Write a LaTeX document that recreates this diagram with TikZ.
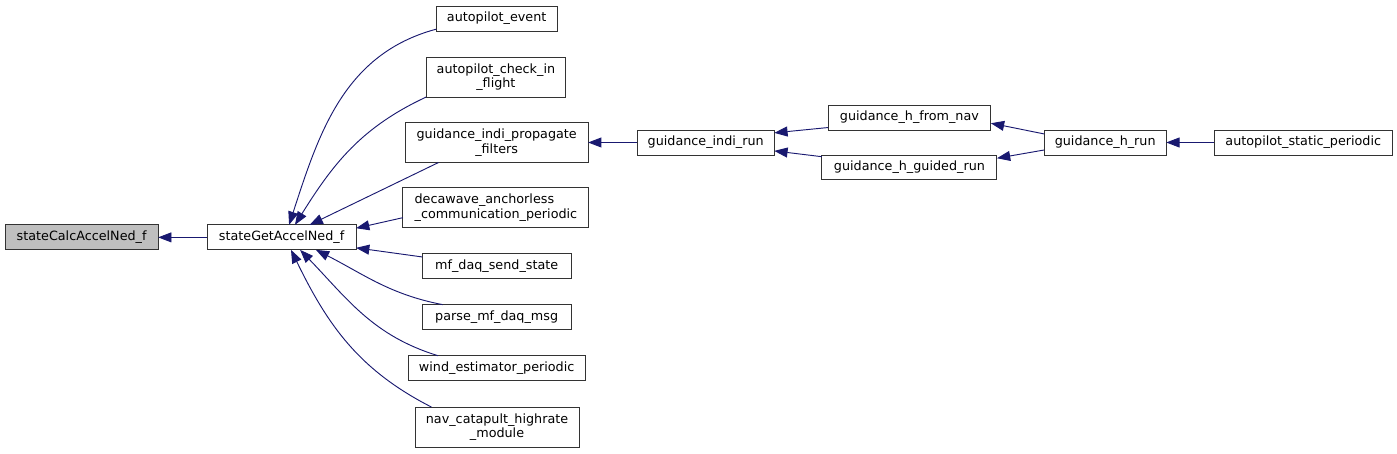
\documentclass[tikz,border=0pt]{standalone}
\usepackage{fontspec}
\setmainfont{DejaVu Sans}
\usetikzlibrary{arrows.meta}
\definecolor{edgeblue}{HTML}{191970}
\definecolor{boxgray}{HTML}{BFBFBF}
\begin{document}
\begin{tikzpicture}[
  fn/.style={draw=black!80,line width=0.7pt,fill=white,inner sep=0pt,outer sep=0pt,minimum height=0.66cm,font=\fontsize{9.6}{11}\selectfont,align=center},
  fntwo/.style={fn,minimum height=1.06cm},
  calledge/.style={draw=edgeblue,line width=0.7pt,{Triangle[length=10pt,width=7.5pt]}-}]
\useasboundingbox (0,0) rectangle (36.96,-11.99);
\node[fn,fill=boxgray,minimum width=4.05cm] (calc) at (2.16,-6.28) {stateCalcAccelNed\_f};
\node[fn,minimum width=3.94cm] (get) at (7.45,-6.28) {stateGetAccelNed\_f};
\node[fn,minimum width=3.20cm] (ape) at (13.14,-0.49) {autopilot\_event};
\node[fntwo,minimum width=3.70cm] (acif) at (13.12,-2.04) {autopilot\_check\_in\\\_flight};
\node[fntwo,minimum width=4.84cm] (gipf) at (13.14,-3.77) {guidance\_indi\_propagate\\\_filters};
\node[fntwo,minimum width=4.92cm,align=left] (dacp) at (13.12,-5.50) {decawave\_anchorless\\\_communication\_periodic};
\node[fn,minimum width=3.94cm] (mdss) at (13.14,-7.04) {mf\_daq\_send\_state};
\node[fn,minimum width=3.94cm] (pmdm) at (13.14,-8.39) {parse\_mf\_daq\_msg};
\node[fn,minimum width=4.68cm] (wep) at (13.14,-9.74) {wind\_estimator\_periodic};
\node[fntwo,minimum width=4.34cm] (nchm) at (13.15,-11.30) {nav\_catapult\_highrate\\\_module};
\node[fn,minimum width=3.63cm] (gir) at (18.67,-3.77) {guidance\_indi\_run};
\node[fn,minimum width=4.31cm] (ghfn) at (24.06,-3.11) {guidance\_h\_from\_nav};
\node[fn,minimum width=4.63cm] (ghgr) at (24.06,-4.43) {guidance\_h\_guided\_run};
\node[fn,minimum width=3.23cm] (ghr) at (29.24,-3.77) {guidance\_h\_run};
\node[fn,minimum width=4.71cm] (asp) at (34.48,-3.77) {autopilot\_static\_periodic};
\draw[calledge] (calc.east) -- (get.west);
\draw[calledge] (get.59) to[out=72,in=195] (ape.190);
\draw[calledge] (get.43) to[out=58,in=205] (acif.south west);
\draw[calledge] (get.24) -- (gipf.199);
\draw[calledge] (get.7) -- (dacp.186);
\draw[calledge] (get.-8) -- (mdss.173);
\draw[calledge] (get.-20) to[out=-27,in=169] (pmdm.167);
\draw[calledge] (get.-34) to[out=-46,in=163] (wep.168);
\draw[calledge] (get.-53) to[out=-64,in=153] (nchm.163);
\draw[calledge] (gipf.east) -- (gir.west);
\draw[calledge] (gir.8) -- (ghfn.187);
\draw[calledge] (gir.-7) -- (ghgr.173);
\draw[calledge] (ghfn.-4) -- (ghr.172);
\draw[calledge] (ghgr.6) -- (ghr.187);
\draw[calledge] (ghr.east) -- (asp.west);
\end{tikzpicture}
\end{document}
